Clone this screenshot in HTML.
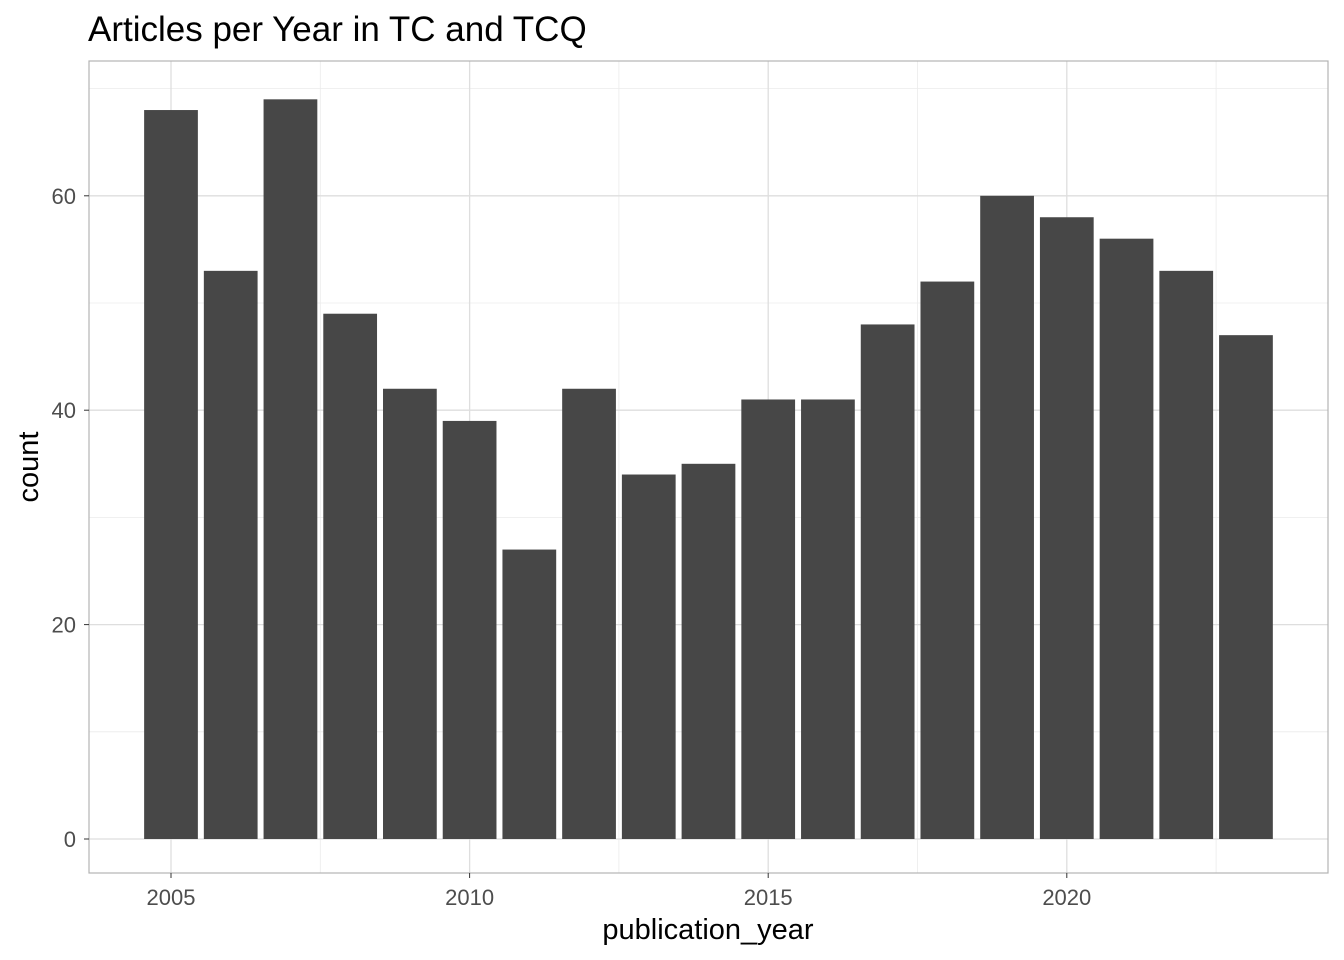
<!DOCTYPE html>
<html><head><meta charset="utf-8"><style>
body{margin:0;background:#fff;}
svg{display:block;font-family:"Liberation Sans",Arial,sans-serif;}
</style></head><body>
<svg id="chart" width="1344" height="960" viewBox="0 0 1344 960">
<text x="88" y="41" font-size="35" fill="#000">Articles per Year in TC and TCQ</text>
<g id="grid"></g>
<g id="bars"></g>
<rect x="89" y="61" width="1239" height="812" fill="none" stroke="#b3b3b3" stroke-width="1.2"/>
<g id="ticks"></g>
<text x="708" y="939" font-size="29" text-anchor="middle" fill="#000">publication_year</text>
<text transform="translate(38,467) rotate(-90)" font-size="29" text-anchor="middle" fill="#000">count</text>
</svg>
<script>
const years=[2005,2006,2007,2008,2009,2010,2011,2012,2013,2014,2015,2016,2017,2018,2019,2020,2021,2022,2023];
const counts=[68,53,69,49,42,39,27,42,34,35,41,41,48,52,60,58,56,53,47];
const yTicks=[0,20,40,60];
const yMinor=[10,30,50,70];
const xTicks=[2005,2010,2015,2020];
const xMinor=[2007.5,2012.5,2017.5,2022.5];
const NS="http://www.w3.org/2000/svg";
const x=v=>171+(v-2005)*59.72;
const y=v=>839-v*10.72;
const L=89,R=1328,T=61,B=873;
function mk(tag,attrs,parent){const e=document.createElementNS(NS,tag);for(const k in attrs)e.setAttribute(k,attrs[k]);parent.appendChild(e);return e;}
const grid=document.getElementById('grid'),bars=document.getElementById('bars'),ticks=document.getElementById('ticks');
yMinor.forEach(v=>{const e=mk('line',{x1:L,x2:R,y1:y(v),y2:y(v),stroke:'#ebebeb','stroke-width':0.8},grid);

});
xMinor.forEach(v=>{const e=mk('line',{x1:x(v),x2:x(v),y1:T,y2:B,stroke:'#ebebeb','stroke-width':0.8},grid);

});
yTicks.forEach(v=>{const e=mk('line',{x1:L,x2:R,y1:y(v),y2:y(v),stroke:'#dedede','stroke-width':1.3},grid);


const t=mk('line',{x1:L-5,x2:L,y1:y(v),y2:y(v),stroke:'#333','stroke-width':1},ticks);


const l=mk('text',{x:L-13,y:y(v)+8,'font-size':22,'text-anchor':'end',fill:'#4d4d4d'},ticks);l.textContent=v;

});
xTicks.forEach(v=>{const e=mk('line',{x1:x(v),x2:x(v),y1:T,y2:B,stroke:'#dedede','stroke-width':1.3},grid);


const t=mk('line',{x1:x(v),x2:x(v),y1:B,y2:B+5,stroke:'#333','stroke-width':1},ticks);


const l=mk('text',{x:x(v),y:B+32,'font-size':22,'text-anchor':'middle',fill:'#4d4d4d'},ticks);l.textContent=v;

});
years.forEach((yr,i)=>{const w=59.72*0.9;const r=mk('rect',{x:x(yr)-w/2,y:y(counts[i]),width:w,height:y(0)-y(counts[i]),fill:'#474747'},bars);

});
</script>
</body></html>
